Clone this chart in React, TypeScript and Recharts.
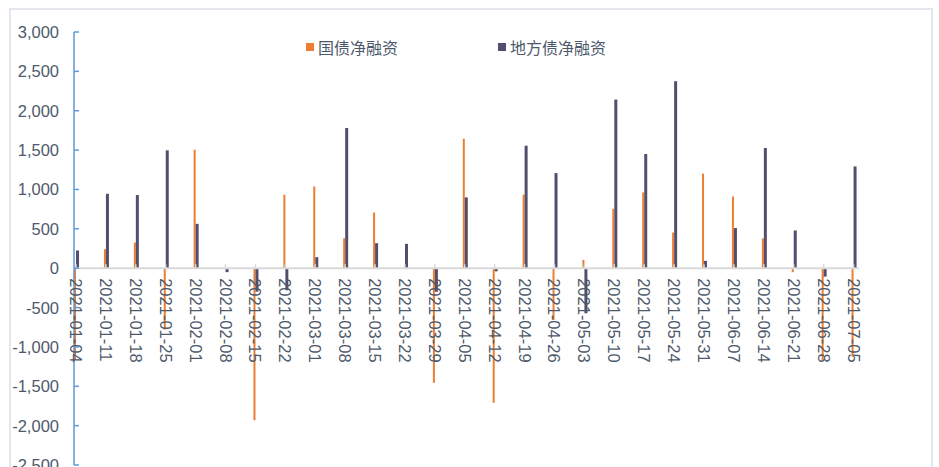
import { BarChart, Bar, XAxis, YAxis, ReferenceLine } from "recharts";

const weeks = [
  "2021-01-04", "2021-01-11", "2021-01-18", "2021-01-25", "2021-02-01", "2021-02-08",
  "2021-02-15", "2021-02-22", "2021-03-01", "2021-03-08", "2021-03-15", "2021-03-22",
  "2021-03-29", "2021-04-05", "2021-04-12", "2021-04-19", "2021-04-26", "2021-05-03",
  "2021-05-10", "2021-05-17", "2021-05-24", "2021-05-31", "2021-06-07", "2021-06-14",
  "2021-06-21", "2021-06-28", "2021-07-05",
];

// 国债净融资
const treasuryNet = [
  -1170, 240, 326, -780, 1505, 0, -1930, 933, 1038, 381, 708, 0, -1456, 1645,
  -1710, 933, -658, 106, 755, 962, 453, 1200, 911, 377, -50, -1167, -1125,
];

// 地方债净融资
const localNet = [
  225, 945, 929, 1497, 563, -50, -298, -280, 140, 1781, 318, 309, -300, 899,
  -40, 1556, 1208, -573, 2142, 1450, 2375, 93, 509, 1527, 479, -107, 1293,
];

const yTicks = [-2500, -2000, -1500, -1000, -500, 0, 500, 1000, 1500, 2000, 2500, 3000];

const CHART_W = 939;
const CHART_H = 467;
const X_AXIS_H = 1;
const MARGIN = { top: 32, right: 80, bottom: 1, left: 0 };
const Y_DOMAIN: [number, number] = [-2500, 3000];
const ORANGE = "#ed7d31";
const SLATE = "#524e6e";
const TEXT = "#4e5a6b";
const FONT = '"Liberation Sans", Arial, sans-serif';
const CJK = '"Noto Sans CJK SC", "Noto Sans", sans-serif';

const rows = weeks.map((week, i) => ({
  idx: i,
  week,
  treasury: treasuryNet[i],
  local: localNet[i],
}));

// the category axis sits on the zero line, not at the bottom of the plot
const plotH = CHART_H - MARGIN.top - MARGIN.bottom - X_AXIS_H;
const zeroY = MARGIN.top + (plotH * Y_DOMAIN[1]) / (Y_DOMAIN[1] - Y_DOMAIN[0]);

function WeekTick(props: any) {
  const { x, payload } = props;
  const tx = x - 1;
  const ty = zeroY + 10;
  return (
    <g>
      <line x1={tx} x2={tx} y1={zeroY - 4} y2={zeroY} stroke="#d9d9d9" strokeWidth={1.5} />
      <text
        x={tx}
        y={ty}
        transform={`rotate(90, ${tx}, ${ty})`}
        textAnchor="start"
        dominantBaseline="central"
        fontSize={16.5}
        fontFamily={FONT}
        fill={TEXT}
      >
        {weeks[payload.value]}
      </text>
    </g>
  );
}

function ValueTick(props: any) {
  const { x, y, payload } = props;
  return (
    <g>
      <line x1={x} x2={x + 5} y1={y} y2={y} stroke="#5b9bd5" strokeWidth={1.5} />
      <text
        x={x - 15}
        y={y}
        textAnchor="end"
        dominantBaseline="central"
        fontSize={16.5}
        fontFamily={FONT}
        fill={TEXT}
      >
        {Number(payload.value).toLocaleString("en-US")}
      </text>
    </g>
  );
}

function LegendItem({ color, label }: { color: string; label: string }) {
  return (
    <div style={{ display: "flex", alignItems: "center" }}>
      <span style={{ width: 8, height: 8, background: color, marginRight: 4 }} />
      <span style={{ fontFamily: CJK, fontSize: 16, color: TEXT, lineHeight: "20px" }}>{label}</span>
    </div>
  );
}

export default function App() {
  return (
    <div
      style={{
        position: "absolute",
        left: 0,
        top: 0,
        width: CHART_W,
        height: CHART_H,
        overflow: "hidden",
        background: "#fff",
      }}
    >
      <div
        style={{
          position: "absolute",
          left: 9,
          top: 8,
          width: 920,
          height: 520,
          border: "2px solid #e4e8ee",
        }}
      />
      <div
        style={{
          position: "absolute",
          left: 306,
          top: 37,
          display: "flex",
          gap: 100,
          zIndex: 2,
        }}
      >
        <LegendItem color={ORANGE} label="国债净融资" />
        <LegendItem color={SLATE} label="地方债净融资" />
      </div>
      <BarChart
        width={CHART_W}
        height={CHART_H}
        data={rows}
        margin={MARGIN}
        barGap={0}
        style={{ position: "absolute", left: 0, top: 0 }}
      >
        <ReferenceLine y={0} stroke="#d9d9d9" strokeWidth={2} />
        <XAxis
          type="number"
          dataKey="idx"
          domain={[-0.1, 26.15]}
          ticks={rows.map((r) => r.idx)}
          interval={0}
          height={X_AXIS_H}
          axisLine={false}
          tickLine={false}
          tick={<WeekTick />}
          allowDataOverflow
        />
        <YAxis
          type="number"
          domain={Y_DOMAIN}
          ticks={yTicks}
          interval={0}
          width={74}
          axisLine={{ stroke: "#5b9bd5", strokeWidth: 1.5 }}
          tickLine={false}
          tickSize={0}
          tickMargin={0}
          tick={<ValueTick />}
          allowDataOverflow
        />
        <Bar dataKey="treasury" fill={ORANGE} barSize={2} isAnimationActive={false} />
        <Bar dataKey="local" fill={SLATE} barSize={3} isAnimationActive={false} />
      </BarChart>
    </div>
  );
}
